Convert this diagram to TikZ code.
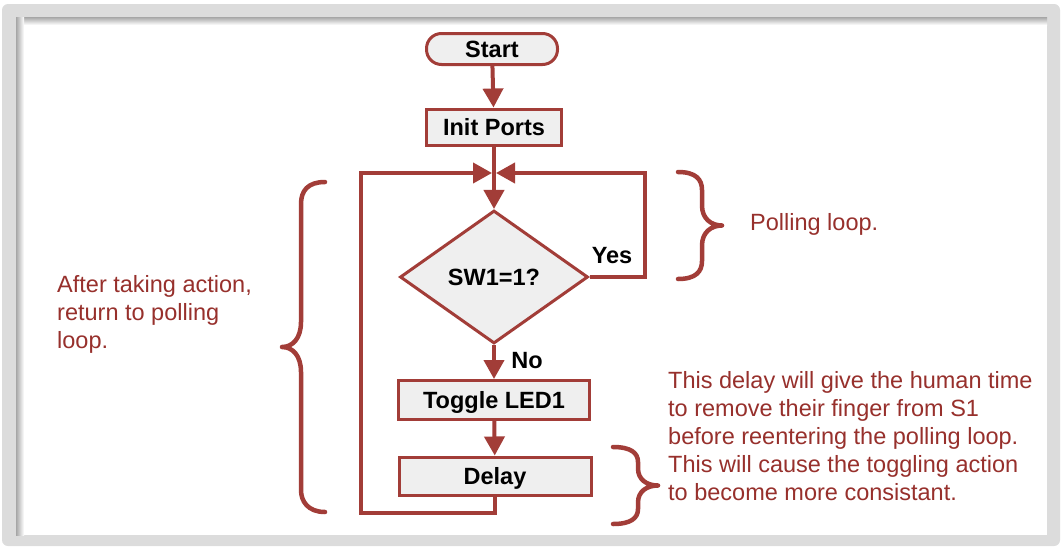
\documentclass[tikz,border=0pt]{standalone}
\usepackage{fontspec}
\setmainfont{Liberation Sans}
\usetikzlibrary{shapes.geometric,arrows.meta}
\definecolor{boxline}{HTML}{A23D38}
\definecolor{txtred}{HTML}{97302C}
\definecolor{boxfill}{HTML}{EFEFEF}
\definecolor{framegray}{HTML}{DCDCDC}
\tikzset{
  boxtext/.style={font=\fontsize{23.5}{27}\selectfont\bfseries, text=black, text height=17pt, text depth=0pt, inner sep=0pt},
  procbox/.style={boxtext, draw=boxline, line width=3pt, fill=boxfill, rectangle},
  termbox/.style={procbox, rounded corners=15pt},
  decbox/.style={boxtext, draw=boxline, line width=3pt, fill=boxfill, diamond, aspect=1.41},
  flow/.style={draw=boxline, line width=4pt},
  flowarrow/.style={flow, -{Triangle[width=20pt,length=19pt]}},
  note/.style={font=\fontsize{23.5}{28}\selectfont, text=txtred, inner sep=0pt, align=left},
  curly/.style={draw=boxline, line width=4.5pt, line cap=round, line join=round},
}
\begin{document}
\begin{tikzpicture}[x=1pt,y=-1pt]
\useasboundingbox (0,0) rectangle (1062,546);
% frame
\fill[white] (0,0) rectangle (1062,546);
\fill[framegray, rounded corners=6pt] (2,4) rectangle (1060,546);
\fill[white] (16,17) rectangle (1047,535);
\shade[top color=black!35, bottom color=white] (16,17) rectangle (1047,25);
\shade[left color=black!35, right color=white] (16,17) rectangle (24,535);

% nodes
\node[termbox, minimum width=131pt, minimum height=31pt] (start) at (492,49) {Start};
\node[procbox, minimum width=135pt, minimum height=36pt] (init) at (494,127) {Init Ports};
\node[decbox, minimum width=188pt, minimum height=133pt] (dec) at (494,277) {SW1=1?};
\node[procbox, minimum width=191pt, minimum height=39pt] (toggle) at (494,400) {Toggle LED1};
\node[procbox, minimum width=192pt, minimum height=38pt] (delay) at (495,476) {Delay};

\coordinate (J) at (494,173);
\coordinate (TL) at (361,173);
\coordinate (BL) at (361,513);
\coordinate (TR) at (645,173);

% connectors
\draw[flowarrow] (start) -- (init);
\draw[flowarrow] (init) -- (dec);
\draw[flowarrow] (dec) -- (toggle);
\draw[flowarrow] (toggle) -- (delay);
\draw[flowarrow, shorten >=2pt] (delay.south) |- (BL) -- (TL) -- (J);
\draw[flowarrow, shorten >=2pt] (dec.east) -| (TR) -- (J);

\node[boxtext] (yes) at (612,255) {Yes};
\node[boxtext] (no) at (527,359.5) {No};

% braces
\draw[curly] (325,182) .. controls (307.8,182) and (301,190.8) .. (301,204) -- (301,322) .. controls (301,338.25) and (292.75,347) .. (282,347) .. controls (292.75,347) and (301,355.75) .. (301,372) -- (301,490) .. controls (301,501.2) and (307.8,512) .. (325,512);
\draw[curly] (678,172) .. controls (695.6,172) and (702,179.2) .. (702,190) -- (702,205.5) .. controls (702,218.5) and (711,225.5) .. (722,225.5) .. controls (711,225.5) and (702,232.5) .. (702,245.5) -- (702,261) .. controls (702,271.8) and (695.6,279) .. (678,279);
\draw[curly] (613,447) .. controls (631,447) and (638,453) .. (638,462) -- (638,468.5) .. controls (638,479.5) and (646.75,485.5) .. (658,485.5) .. controls (646.75,485.5) and (638,491.5) .. (638,502.5) -- (638,509) .. controls (638,518) and (631,524) .. (613,524);

% notes
\node[note, anchor=north west] (n1) at (57,275) {After taking action,\\return to polling\\loop.};
\node[note, anchor=base west] (n2) at (750,230) {Polling loop.};
\node[note, anchor=north west] (n3) at (668,371) {This delay will give the human time\\to remove their finger from S1\\before reentering the polling loop.\\This will cause the toggling action\\to become more consistant.};
\end{tikzpicture}
\end{document}
